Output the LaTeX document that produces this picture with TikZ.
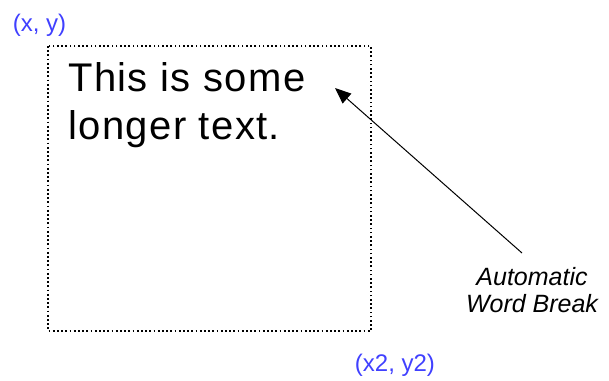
\documentclass[tikz,border=0pt]{standalone}
\usepackage{fontspec}
\setmainfont{Liberation Sans}
\newfontfamily\spacedsans[LetterSpace=3.5]{Liberation Sans}
\usetikzlibrary{arrows.meta}
\definecolor{lblblue}{RGB}{64,64,255}
\tikzset{
  frame/.style={draw=black, line width=1.7pt, dash pattern=on 1.7pt off 2.5pt},
  bigtext/.style={inner sep=0pt, anchor=north west, align=left, font=\spacedsans\fontsize{40}{48}\selectfont},
  coordlbl/.style={inner sep=0pt, anchor=base, text=lblblue, font=\fontsize{24}{28}\selectfont},
  note/.style={inner sep=0pt, anchor=base, align=center, font=\fontsize{25}{27}\selectfont\itshape},
  pointer/.style={draw=black, line width=1pt, -{Triangle[length=16pt,width=13pt]}}
}
\begin{document}
\begin{tikzpicture}[x=1pt,y=-1pt]
\useasboundingbox (0,0) rectangle (609,380);
\draw[frame] (48,46) rectangle (371,331);
\node[bigtext] (txt) at (68,62) {This is some\\longer text.};
\node[coordlbl] (xy) at (39.5,31) {(x, y)};
\node[coordlbl] (xy2) at (395,371) {(x2, y2)};
\node[note] (auto) at (532,312) {Automatic\\Word Break};
\coordinate (tip) at (335,88);
\coordinate (tail) at (522,253);
\draw[pointer] (tail) -- (tip);
\end{tikzpicture}
\end{document}
